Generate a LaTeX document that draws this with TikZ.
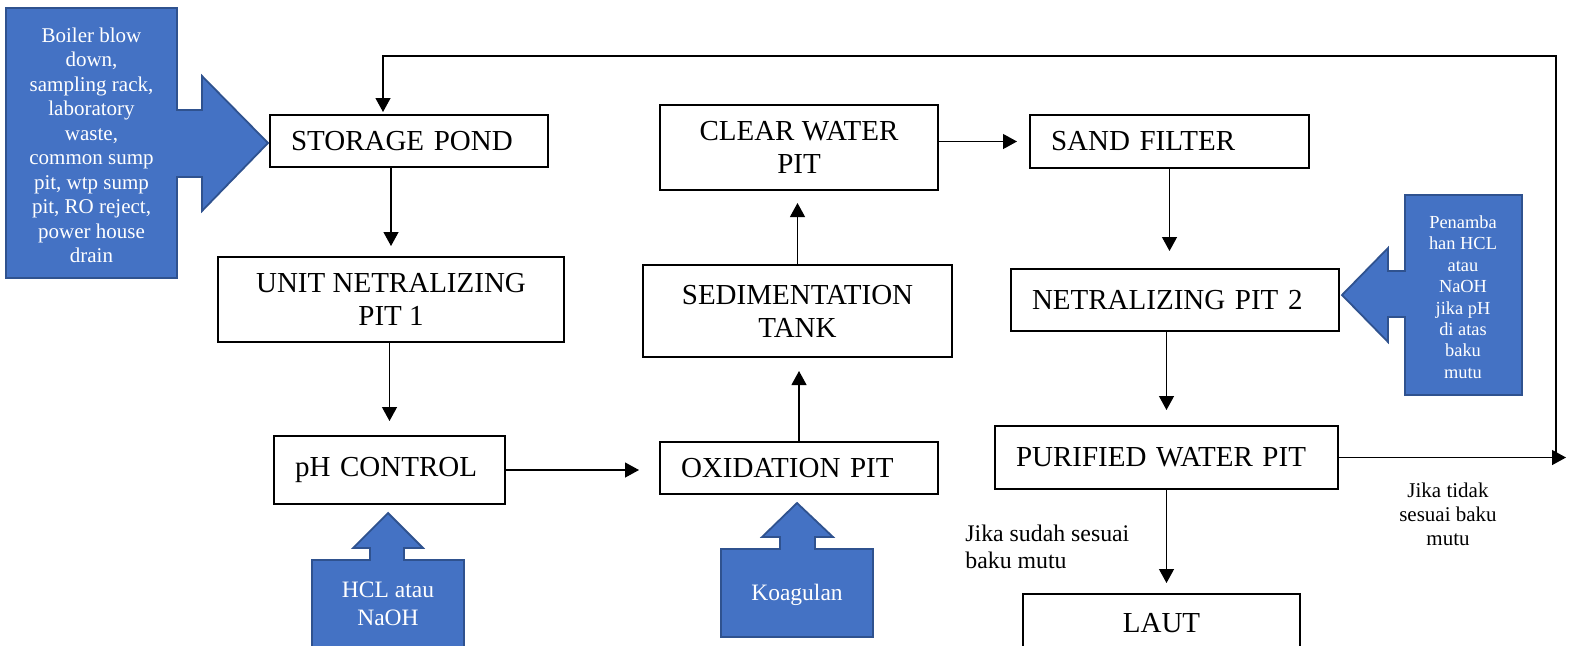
\documentclass[tikz,border=0pt]{standalone}
\usepackage{fontspec}
\setmainfont{Liberation Serif}
\usetikzlibrary{arrows.meta}
\definecolor{biruIsi}{HTML}{4472C4}
\definecolor{biruGaris}{HTML}{2F528F}

\begin{document}
\begin{tikzpicture}[x=0.5pt,y=-0.5pt,
  kotak/.style={draw,line width=1pt,inner ysep=0pt,font=\fontsize{14.5}{16.5}\selectfont},
  kiri/.style={kotak,inner xsep=10.5pt,align=left,text width=#1},
  tengah/.style={kotak,inner xsep=0pt,align=center},
  panah/.style={-{Triangle[length=7pt,width=7.5pt]},line width=0.6pt},
  isian/.style={fill=biruIsi,draw=biruGaris,line width=0.9pt},
  putih/.style={text=white,align=center,inner sep=0pt}]
\clip (0,0) rectangle (1572,645);

% kotak proses
\node[kiri=118pt,minimum height=26pt] (storage) at (409,141) {STORAGE POND};
\node[tengah,minimum width=173pt,minimum height=42.5pt] (unit) at (391,299.5) {UNIT NETRALIZING\\PIT 1};
\node[kiri=94.5pt,minimum height=34pt] (ph) at (389.5,470) {pH CONTROL};
\node[kiri=118pt,minimum height=26pt] (oksidasi) at (799,468) {OXIDATION PIT};
\node[tengah,minimum width=154.5pt,minimum height=46pt] (sed) at (797.5,311) {SEDIMENTATION\\TANK};
\node[tengah,minimum width=139pt,minimum height=42.5pt] (clear) at (799,147.5) {CLEAR WATER\\PIT};
\node[kiri=118.5pt,minimum height=26.5pt] (sand) at (1169.5,141.5) {SAND FILTER};
\node[kiri=143pt,minimum height=31pt] (net2) at (1175,300) {NETRALIZING PIT 2};
\node[kiri=150.5pt,minimum height=31.5pt] (purified) at (1166.5,457.5) {PURIFIED WATER PIT};
\node[tengah,minimum width=138.5pt,minimum height=29pt] (laut) at (1161.5,623) {LAUT};

% panah masukan (biru)
\draw[isian] (6,8) -- (177,8) -- (177,110) -- (202,110) -- (202,76) -- (268,143)
  -- (202,211) -- (202,177) -- (177,177) -- (177,278) -- (6,278) -- cycle;
\node[putih,font=\fontsize{10.5}{12.25}\selectfont] (sumber) at (91.5,145.5)
  {Boiler blow\\down,\\sampling rack,\\laboratory\\waste,\\common sump\\pit, wtp sump\\pit, RO reject,\\power house\\drain};
\draw[isian] (312,680) -- (312,560) -- (370,560) -- (370,548) -- (353,548) -- (388,513)
  -- (423,548) -- (404,548) -- (404,560) -- (464,560) -- (464,680) -- cycle;
\node[putih,font=\fontsize{11.75}{14}\selectfont] (kimia) at (388,604) {HCL atau\\NaOH};
\draw[isian] (721,637) -- (721,549) -- (780,549) -- (780,537) -- (762,537) -- (797,503)
  -- (833,537) -- (815,537) -- (815,549) -- (873,549) -- (873,637) -- cycle;
\node[putih,font=\fontsize{11.75}{14}\selectfont] (koagulan) at (797,595) {Koagulan};
\draw[isian] (1522,195) -- (1405,195) -- (1405,271) -- (1388,271) -- (1388,248) -- (1342,295)
  -- (1388,342) -- (1388,317) -- (1405,317) -- (1405,395) -- (1522,395) -- cycle;
\node[putih,font=\fontsize{9.2}{10.7}\selectfont] (tambah) at (1463,297)
  {Penamba\\han HCL\\atau\\NaOH\\jika pH\\di atas\\baku\\mutu};

% aliran
\draw[panah,shorten >=5pt] (unit.north |- storage.south) -- (unit.north);
\draw[panah,shorten >=7pt] (ph.north |- unit.south) -- (ph.north);
\draw[panah,shorten >=10pt] (ph.east) -- (ph.east -| oksidasi.west);
\draw[panah,shorten >=6.5pt] (oksidasi.north) -- (oksidasi.north |- sed.south);
\draw[panah,shorten >=6pt] (sed.north) -- (sed.north |- clear.south);
\draw[panah,shorten >=6pt] (clear.east |- sand.west) -- (sand.west);
\draw[panah,shorten >=8.5pt] (sand.south) -- (sand.south |- net2.north);
\draw[panah,shorten >=7.5pt] (purified.north |- net2.south) -- (purified.north);
\draw[panah,shorten >=5pt] (purified.south) -- (purified.south |- laut.north);

% kembali ke storage pond
\coordinate (ujung) at (1566,457.5);
\coordinate (kanan) at (1556,457.5);
\coordinate (atas) at (1556,56);
\coordinate (masuk) at (383,56);
\draw[panah] (purified.east) -- (ujung);
\draw[panah,shorten >=1pt] (kanan) -- (atas) -- (masuk) -- (masuk |- storage.north);

\node[anchor=west,align=left,inner sep=0pt,font=\fontsize{11.9}{13.5}\selectfont] (sudah) at (965,546.5) {Jika sudah sesuai\\baku mutu};
\node[align=center,inner sep=0pt,font=\fontsize{10.5}{12.1}\selectfont] (tidak) at (1448,514) {Jika tidak\\sesuai baku\\mutu};
\end{tikzpicture}
\end{document}
